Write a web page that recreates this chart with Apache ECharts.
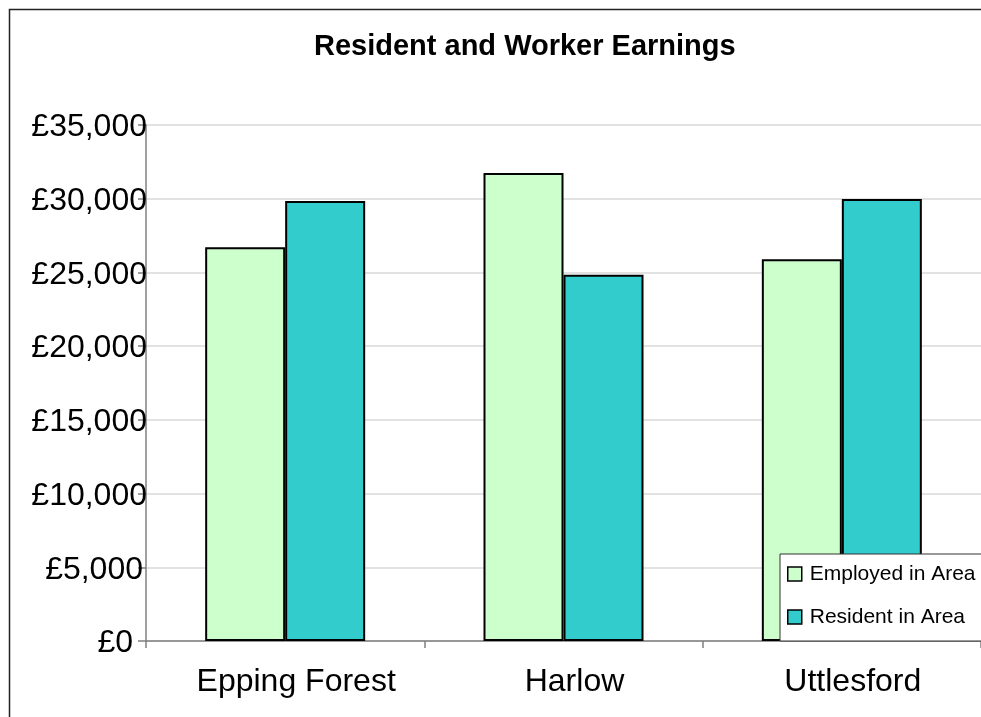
<!DOCTYPE html>
<html>
<head>
<meta charset="utf-8">
<script src="https://cdn.jsdelivr.net/npm/echarts@6/dist/echarts.min.js"></script>
<style>
html,body{margin:0;padding:0;background:#fff;}
#chart{width:981px;height:717px;}
</style>
</head>
<body>
<div id="chart"></div>
<script>
var categories = ['Epping Forest', 'Harlow', 'Uttlesford'];
var employedInArea = [26700, 31750, 25900];
var residentInArea = [29850, 24850, 29980];
var seriesNames = ['Employed in Area', 'Resident in Area'];
var yTicks = { min: 0, max: 35000, interval: 5000 };

var chart = echarts.init(document.getElementById('chart'));
var FONT = '"Liberation Sans", Arial, sans-serif';
var yLabelBase = { fontFamily: FONT, fontSize: 32, color: '#000' };

chart.setOption({
  animation: false,
  backgroundColor: '#ffffff',
  textStyle: { fontFamily: FONT },
  title: {
    text: 'Resident and Worker Earnings',
    left: 309,
    top: 27,
    textStyle: { fontFamily: FONT, fontSize: 29, fontWeight: 'bold', color: '#000' }
  },
  graphic: [{
    type: 'rect',
    silent: true,
    z: -10,
    shape: { x: 9.5, y: 9.5, width: 1200, height: 1200 },
    style: { fill: 'none', stroke: '#222', lineWidth: 1.5 }
  }],
  legend: {
    data: seriesNames,
    orient: 'vertical',
    left: 780,
    top: 554,
    padding: [9, 30, 13, 7],
    itemGap: 21,
    itemWidth: 14,
    itemHeight: 14,
    icon: 'rect',
    backgroundColor: '#ffffff',
    borderColor: '#333',
    borderWidth: 1,
    itemStyle: { borderColor: '#000', borderWidth: 1.5 },
    textStyle: { fontFamily: FONT, fontSize: 21, color: '#000', lineHeight: 22, padding: [0, 0, 0, 3] }
  },
  grid: { left: 146, top: 125, width: 837, height: 516, containLabel: false },
  xAxis: {
    type: 'category',
    data: categories,
    axisLine: { lineStyle: { color: '#808080', width: 1.5 } },
    axisTick: { show: true, alignWithLabel: false, length: 7, lineStyle: { color: '#808080', width: 1.5 } },
    axisLabel: { fontFamily: FONT, fontSize: 32, color: '#000', margin: 25, padding: [0, 0, 0, 22] },
    splitLine: { show: false }
  },
  yAxis: {
    type: 'value',
    min: yTicks.min,
    max: yTicks.max,
    interval: yTicks.interval,
    axisLine: { show: true, lineStyle: { color: '#808080', width: 1.5 } },
    axisTick: { show: true, length: 8, lineStyle: { color: '#808080', width: 1.5 } },
    axisLabel: {
      margin: -1,
      formatter: function (v) {
        var s = '£' + v.toLocaleString('en-GB');
        var key = s.length >= 7 ? 'w7' : (s.length >= 6 ? 'w6' : 'w2');
        return '{' + key + '|' + s + '}';
      },
      rich: {
        w7: Object.assign({ padding: [5, 0, 0, 0] }, yLabelBase),
        w6: Object.assign({ padding: [5, 4, 0, 0] }, yLabelBase),
        w2: Object.assign({ padding: [5, 14, 0, 0] }, yLabelBase)
      }
    },
    splitLine: { show: true, lineStyle: { color: '#d9d9d9', width: 1.5 } }
  },
  series: [{
    name: seriesNames[0],
    type: 'bar',
    data: employedInArea,
    barWidth: 80,
    barGap: '0%',
    itemStyle: { color: '#CCFFCC', borderColor: '#000', borderWidth: 2 }
  }, {
    name: seriesNames[1],
    type: 'bar',
    data: residentInArea,
    barWidth: 80,
    barGap: '0%',
    itemStyle: { color: '#33CCCC', borderColor: '#000', borderWidth: 2 }
  }]
});
</script>
</body>
</html>
